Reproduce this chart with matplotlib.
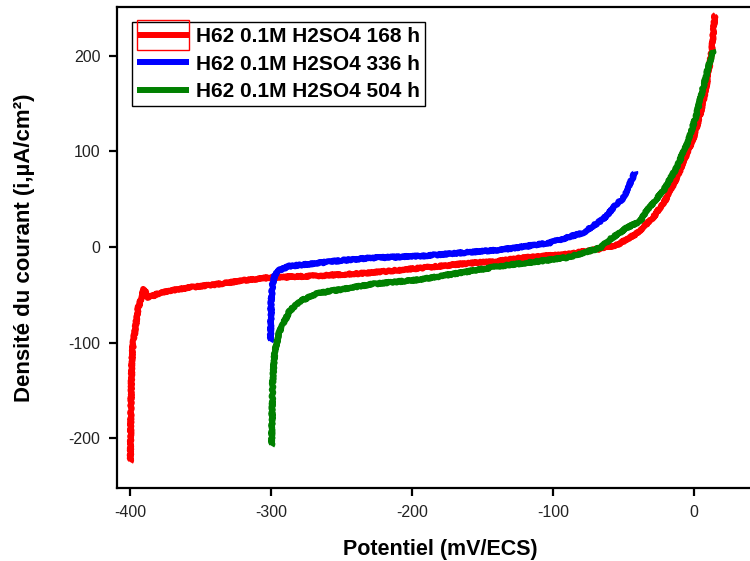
import matplotlib
matplotlib.use("Agg")
import matplotlib.pyplot as plt
from matplotlib.legend_handler import HandlerLine2D
from matplotlib.patches import Rectangle

plt.rcParams['font.family'] = ['Liberation Sans', 'DejaVu Sans']
plt.rcParams['axes.unicode_minus'] = False

# Polarisation curves of H62 brass in 0.1 M H2SO4 (potential in mV/ECS, current density in uA/cm2)
e_168 = [-400, -399.6, -399, -398, -396.8, -394.5, -392, -390.4, -387.4, -379, -360,
         -338.8, -320, -301, -265, -230, -194, -160, -137.6, -123, -90, -66.5, -54.7,
         -40.5, -28.7, -19.2, -10.9, -5, 0.9, 5.7, 9.2, 12.8, 15.1]
i_168 = [-225, -170, -120, -100, -88, -63.5, -53, -44, -53, -48, -42.6,
         -39, -35, -32, -30, -27, -22, -17, -14.6, -11.5, -7.6, -2, 2,
         14, 31, 51, 76, 97, 118, 145, 170, 205, 243]

e_336 = [-300.5, -300.2, -300, -299, -297.5, -295.5, -287, -268, -250, -230, -194,
         -160, -137.6, -125.7, -102, -78.4, -66.5, -61.8, -54.7, -50, -47.6, -42.9, -41.7]
i_336 = [-99, -75, -56, -39, -30, -25, -20, -17, -14, -11.5, -9.5,
         -5.5, -3, -0.7, 4.5, 15, 27, 32.5, 45, 51, 58.6, 74, 79]

e_504 = [-299.7, -299.5, -299, -297.5, -294, -287, -280, -268, -258, -244, -230,
         -194, -137.6, -100, -90, -66.5, -59.4, -47.6, -38, -33.4, -21.6, -12.1,
         -3.8, 2.1, 6.8, 10.4, 13.9]
i_504 = [-208, -190, -143, -109, -88, -67, -57, -49, -46, -43, -39,
         -34, -20, -13, -11, -1, 8, 20, 27, 38, 58.6, 83,
         111, 139, 167, 188, 206]

labels = ["H62 0.1M H2SO4 168 h", "H62 0.1M H2SO4 336 h", "H62 0.1M H2SO4 504 h"]
colors = ["#ff0000", "#0000ff", "#008000"]

x_ticks = [-400, -300, -200, -100, 0]
y_ticks = [-200, -100, 0, 100, 200]


class BoxedLineHandler(HandlerLine2D):
    """Legend line drawn inside a thin rectangle of the same colour."""
    def create_artists(self, legend, orig_handle, xdescent, ydescent,
                       width, height, fontsize, trans):
        artists = super().create_artists(legend, orig_handle, xdescent, ydescent,
                                         width, height, fontsize, trans)
        for a in artists:
            a.set_sketch_params(None)
        pad = height * 0.5
        box = Rectangle((-xdescent, -ydescent - pad), width, height + 2 * pad,
                        fill=False, edgecolor=orig_handle.get_color(),
                        linewidth=1.0, transform=trans)
        return [box] + artists


class PlainLineHandler(HandlerLine2D):
    def create_artists(self, *args, **kwargs):
        artists = super().create_artists(*args, **kwargs)
        for a in artists:
            a.set_sketch_params(None)
        return artists


fig = plt.figure(figsize=(7.5, 5.61), dpi=100)
ax = fig.add_axes([117 / 750, 1 - 488 / 561, 1 - 117 / 750, (488 - 7) / 561])

series = [(e_168, i_168), (e_336, i_336), (e_504, i_504)]
lines = []
for (e, i), c, lab in zip(series, colors, labels):
    ln, = ax.plot(e, i, color=c, lw=4.3, label=lab, solid_capstyle='butt',
                  solid_joinstyle='round')
    # slightly ragged stroke, like a raw potentiostat trace
    ln.set_sketch_params(scale=0.8, length=2.0, randomness=4.0)
    lines.append(ln)

ax.set_xlim(-409.5, 40)
ax.set_ylim(-252, 251)
ax.set_xticks(x_ticks)
ax.set_yticks(y_ticks)

for side in ['left', 'bottom', 'top']:
    ax.spines[side].set_linewidth(1.6)
ax.spines['right'].set_visible(False)
ax.tick_params(axis='both', direction='out', length=6, width=1.6,
               labelsize=11.5, colors='black', labelcolor='#222222', pad=6)
ax.tick_params(top=False, right=False)

ax.set_xlabel("Potentiel (mV/ECS)", fontsize=15.5, fontweight='bold')
ax.set_ylabel("Densité du courant (i,µA/cm²)", fontsize=16, fontweight='bold')
ax.xaxis.set_label_coords(0.51, -0.106)
ax.yaxis.set_label_coords(-0.13, 0.5)

leg = ax.legend(handles=lines, loc='upper left', bbox_to_anchor=(0.0, 1.0),
                borderaxespad=0.72, prop={'weight': 'bold', 'size': 15},
                frameon=True, fancybox=False, edgecolor='black', framealpha=1,
                handlelength=2.5, handletextpad=0.3, labelspacing=0.4,
                borderpad=0.25,
                handler_map={lines[0]: BoxedLineHandler(),
                             lines[1]: PlainLineHandler(),
                             lines[2]: PlainLineHandler()})
leg.get_frame().set_linewidth(1.0)

fig.savefig("out.png", dpi=100)
